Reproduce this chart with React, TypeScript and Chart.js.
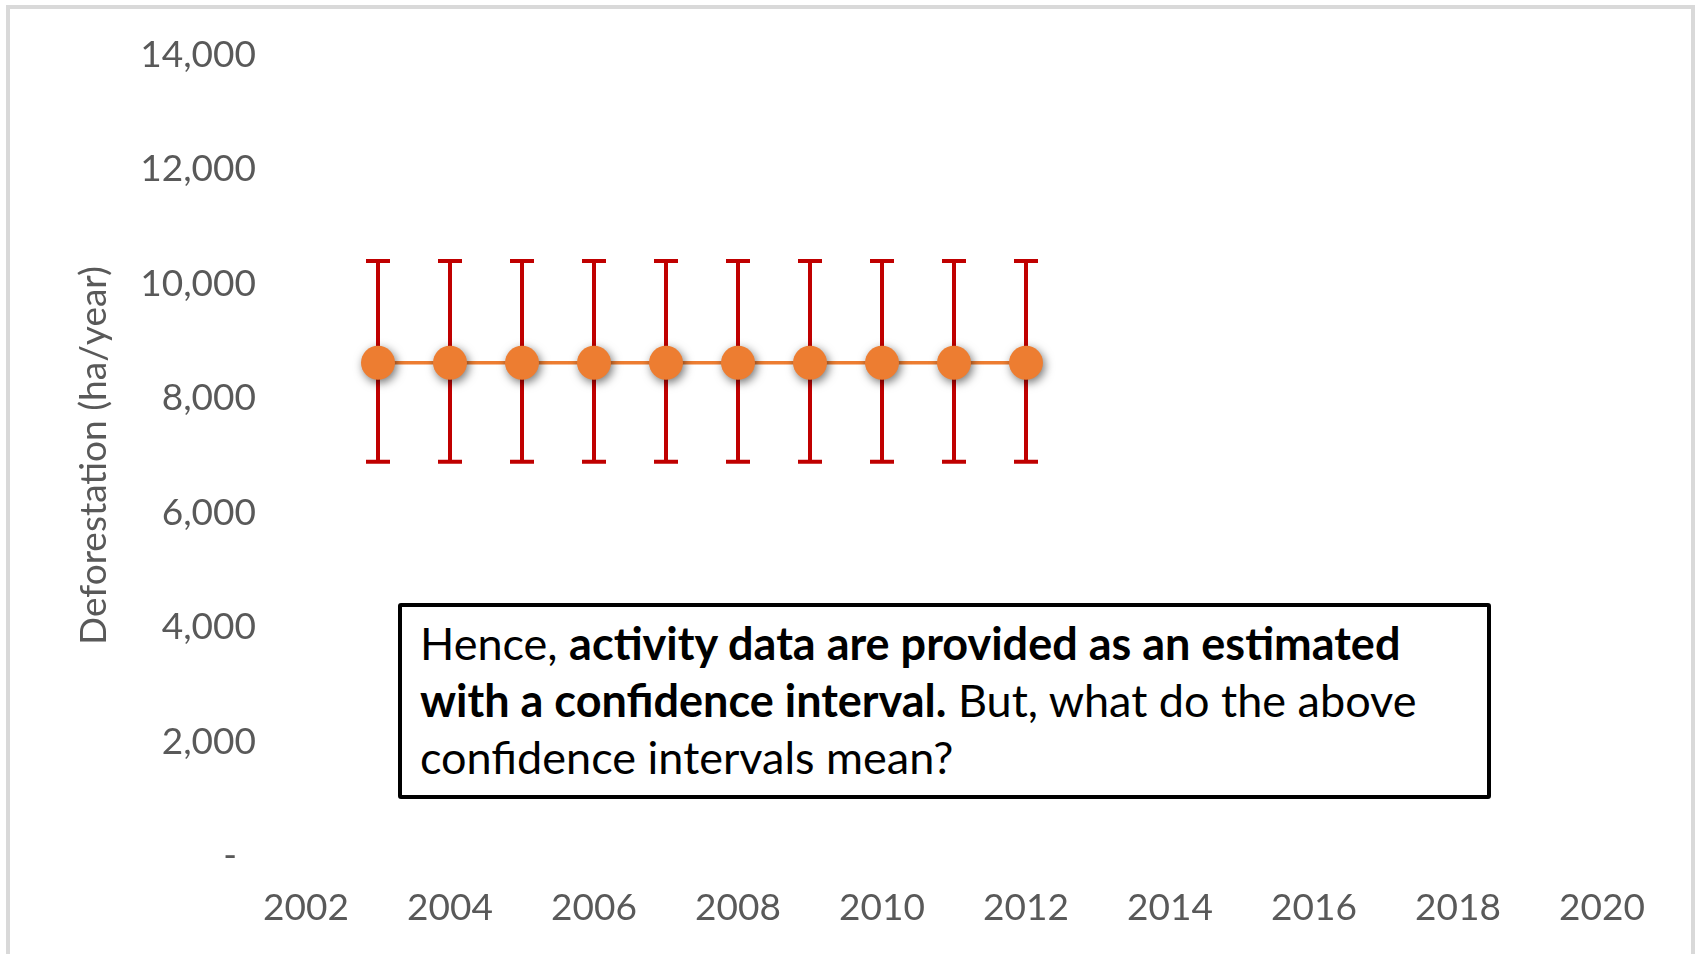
import React, { useEffect, useRef } from "react";
import { Chart, registerables } from "chart.js";

Chart.register(...registerables);

const years = [2003, 2004, 2005, 2006, 2007, 2008, 2009, 2010, 2011, 2012];
const estimates = [8620, 8620, 8620, 8620, 8620, 8620, 8620, 8620, 8620, 8620];
const lowerBounds = [6890, 6890, 6890, 6890, 6890, 6890, 6890, 6890, 6890, 6890];
const upperBounds = [10400, 10400, 10400, 10400, 10400, 10400, 10400, 10400, 10400, 10400];
const yTicks = [0, 2000, 4000, 6000, 8000, 10000, 12000, 14000];
const xTicks = [2002, 2004, 2006, 2008, 2010, 2012, 2014, 2016, 2018, 2020];
const yTitle = "Deforestation (ha/year)";

const FONT = "Lato, 'Open Sans', sans-serif";

const errorBarPlugin = {
  id: "errorBars",
  beforeDatasetsDraw(chart: any) {
    const { ctx, scales } = chart;
    const xs = scales.x;
    const ys = scales.y;
    ctx.save();
    ctx.strokeStyle = "#C00000";
    ctx.lineWidth = 4;
    ctx.lineCap = "butt";
    years.forEach((yr, i) => {
      const x = xs.getPixelForValue(yr);
      const yl = ys.getPixelForValue(lowerBounds[i]);
      const yu = ys.getPixelForValue(upperBounds[i]);
      ctx.beginPath();
      ctx.moveTo(x, yl);
      ctx.lineTo(x, yu);
      ctx.moveTo(x - 12, yl);
      ctx.lineTo(x + 12, yl);
      ctx.moveTo(x - 12, yu);
      ctx.lineTo(x + 12, yu);
      ctx.stroke();
    });
    ctx.restore();
  },
};

const shadowPlugin = {
  id: "pointShadow",
  beforeDatasetDraw(chart: any, args: any) {
    if (args.index === 0) {
      const ctx = chart.ctx;
      ctx.save();
      ctx.shadowColor = "rgba(0,0,0,0.55)";
      ctx.shadowBlur = 10;
      ctx.shadowOffsetX = 2;
      ctx.shadowOffsetY = 3;
    }
  },
  afterDatasetDraw(chart: any, args: any) {
    if (args.index === 0) {
      chart.ctx.restore();
    }
  },
};

export default function App() {
  const canvasRef = useRef<HTMLCanvasElement | null>(null);

  useEffect(() => {
    const canvas = canvasRef.current;
    if (!canvas) return;
    const pts = years.map((yr, i) => ({ x: yr, y: estimates[i] }));
    const chart = new Chart(canvas, {
      type: "line",
      data: {
        datasets: [
          {
            label: "points",
            data: pts,
            showLine: false,
            pointRadius: 17,
            pointBackgroundColor: "#ED7D31",
            pointBorderColor: "#ED7D31",
            pointBorderWidth: 0,
          },
          {
            label: "line",
            data: pts,
            borderColor: "#ED7D31",
            borderWidth: 3.5,
            pointRadius: 0,
            fill: false,
          },
        ],
      },
      options: {
        animation: false,
        responsive: false,
        events: [],
        layout: { padding: { top: 55, left: 0, right: 94, bottom: 0 } },
        plugins: {
          legend: { display: false },
          tooltip: { enabled: false },
        },
        scales: {
          x: {
            type: "linear",
            min: 2002,
            max: 2020,
            afterBuildTicks: (scale: any) => {
              scale.ticks = xTicks.map((v) => ({ value: v }));
            },
            afterFit: (scale: any) => {
              scale.height = 98;
              scale.paddingLeft = 0;
              scale.paddingRight = 0;
            },
            grid: { display: false, drawTicks: false },
            border: { display: false },
            ticks: {
              padding: 30,
              color: "#595959",
              font: { family: FONT, size: 37 },
              maxRotation: 0,
              autoSkip: false,
              callback: (v: any) => String(v),
            },
          },
          y: {
            type: "linear",
            min: 0,
            max: 14000,
            afterBuildTicks: (scale: any) => {
              scale.ticks = yTicks.map((v) => ({ value: v }));
            },
            afterFit: (scale: any) => {
              scale.width = 306;
              scale.paddingTop = 0;
              scale.paddingBottom = 0;
            },
            grid: { display: false, drawTicks: false },
            border: { display: false },
            ticks: {
              padding: 50,
              color: "#595959",
              font: { family: FONT, size: 37 },
              callback: (v: any) =>
                Number(v) === 0 ? "-  " : Number(v).toLocaleString("en-US"),
            },
            title: {
              display: true,
              text: yTitle,
              color: "#595959",
              font: { family: FONT, size: 37 },
              padding: { top: 72, bottom: 0 },
            },
          },
        },
      },
      plugins: [errorBarPlugin, shadowPlugin],
    });
    return () => chart.destroy();
  }, []);

  return (
    <div
      style={{
        position: "fixed",
        left: 0,
        top: 0,
        width: 1696,
        height: 954,
        overflow: "hidden",
        background: "#ffffff",
      }}
    >
      <canvas
        ref={canvasRef}
        width={1696}
        height={954}
        style={{ position: "absolute", left: 0, top: 0, width: 1696, height: 954 }}
      />
      <div
        style={{
          position: "absolute",
          left: 6,
          top: 5,
          width: 1689,
          height: 1000,
          border: "4px solid #d9d9d9",
          boxSizing: "border-box",
          pointerEvents: "none",
        }}
      />
      <div
        style={{
          position: "absolute",
          left: 398,
          top: 603,
          width: 1093,
          height: 196,
          border: "4px solid #000000",
          borderRadius: 3,
          boxSizing: "border-box",
          background: "#ffffff",
          padding: "8px 0 0 18px",
          fontFamily: FONT,
          fontSize: 45,
          lineHeight: "57px",
          color: "#000000",
          whiteSpace: "nowrap",
        }}
      >
        Hence, <b>activity data are provided as an estimated</b>
        <br />
        <b>with a confidence interval.</b> But, what do the above
        <br />
        confidence intervals mean?
      </div>
    </div>
  );
}
